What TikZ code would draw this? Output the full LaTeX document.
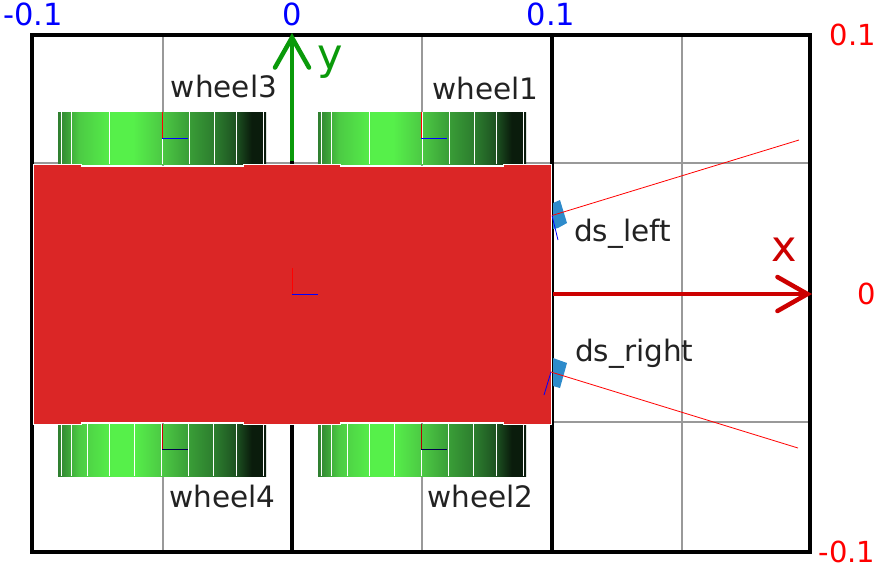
\documentclass[tikz,border=0pt]{standalone}
\usepackage{fontspec}
\setmainfont{DejaVu Sans}
\usetikzlibrary{arrows.meta}

\definecolor{wheelA}{HTML}{2F7F30}
\definecolor{wheelB}{HTML}{4CCB44}
\definecolor{wheelC}{HTML}{56F04A}
\definecolor{wheelD}{HTML}{4CC844}
\definecolor{wheelE}{HTML}{389A36}
\definecolor{wheelF}{HTML}{2B7A2D}
\definecolor{wheelG}{HTML}{1C4F20}
\definecolor{wheelH}{HTML}{0A1C0C}
\definecolor{bodyred}{HTML}{DB2626}
\definecolor{sensorblue}{HTML}{2E8BCB}
\definecolor{axisgreen}{HTML}{0A9A0A}
\definecolor{axisred}{HTML}{CC0000}
\definecolor{labelgrey}{HTML}{222222}

% 25bp..75bp is the visible part
\pgfdeclarehorizontalshading{wheelshade}{100bp}{
  color(0bp)=(wheelA); color(25bp)=(wheelA); color(30bp)=(wheelB);
  color(38bp)=(wheelC); color(43bp)=(wheelC); color(50bp)=(wheelD);
  color(57bp)=(wheelE); color(63bp)=(wheelF); color(68bp)=(wheelG);
  color(71.5bp)=(wheelH); color(100bp)=(wheelH)}

\newcommand{\wheelbands}[2]{
  \foreach \o in {#2} {
    \draw[bandline] (#1+\o,\ya) -- (#1+\o,\yb);
  }
}

\begin{document}
\begin{tikzpicture}[x=1pt, y=-1pt]
    \tikzstyle{every node}=[inner sep=0pt, font=\fontsize{29.5}{30}\selectfont, text=labelgrey]
    \tikzstyle{gridline}=[draw=black!40, line width=2.5pt]
    \tikzstyle{frameline}=[draw=black, line width=4pt]
    \tikzstyle{wheelbody}=[shading=wheelshade, minimum width=208pt, minimum height=52pt, anchor=north west]
    \tikzstyle{bandline}=[draw=white, line width=1pt]
    \tikzstyle{sensor}=[fill=sensorblue]
    \tikzstyle{ray}=[draw=red, line width=.8pt]
    \tikzstyle{tickx}=[text=blue, font=\fontsize{30.5}{32}\selectfont]
    \tikzstyle{ticky}=[text=red, font=\fontsize{29}{30}\selectfont]
    \tikzstyle{axisarrow}=[line width=4.5pt, -{Straight Barb[length=30pt, width=34pt, line cap=round]}]

    \useasboundingbox (0,0) rectangle (880,566);

    % grid
    \foreach \x in {163,422,682} {
      \draw[gridline] (\x,35) -- (\x,552);
    }
    \foreach \y in {163,422} {
      \draw[gridline] (32,\y) -- (810,\y);
    }
    \foreach \x in {292,552} {
      \draw[frameline] (\x,35) -- (\x,552);
    }
    \draw[frameline] (32,35) rectangle (810,552);

    % wheels
    \node[wheelbody] (wheel3body) at (58,112) {};
    \node[wheelbody] (wheel1body) at (318,112) {};
    \node[wheelbody] (wheel4body) at (58,424) {};
    \node[wheelbody] (wheel2body) at (318,424) {};

    \def\ya{112} \def\yb{164}
    \wheelbands{58}{3,13,51,104,131,156,178,205}
    \wheelbands{318}{3,13,51,104,131,156,178,205}
    \def\ya{424} \def\yb{476}
    \wheelbands{58}{3,13,29,51,76,103,130,155,178,205}
    \wheelbands{318}{3,13,29,51,76,103,130,155,178,205}

    % body
    \draw[fill=bodyred, draw=white, line width=1pt]
      (33,164) -- (81,164) -- (81,166) -- (243,166) -- (243,164) -- (340,164)
      -- (340,166) -- (503,166) -- (503,164) -- (551,164)
      -- (551,424) -- (503,424) -- (503,422) -- (340,422) -- (340,424)
      -- (243,424) -- (243,422) -- (81,422) -- (81,424) -- (33,424) -- cycle;

    % wheel and body frames
    \foreach \x/\y/\top/\c in {162/138/112/red,421/138/112/red,162/449/424/red!80!black,421/449/424/red!70!black,292/294/268/red} {
      \draw[\c, line width=1pt] (\x,\top) -- (\x,\y);
    }
    \foreach \x/\y/\c in {162/138/blue,421/138/blue,162/449/blue!30!black,421/449/blue!30!black,292/294/blue} {
      \draw[\c, line width=1pt] (\x,\y) -- (\x+26,\y);
    }

    % sensors
    \fill[sensor] (553,203) -- (560,200) -- (567,223) -- (558,228) -- (553,229) -- cycle;
    \fill[sensor] (553,358) -- (567,363) -- (560,388) -- (553,386) -- cycle;

    \coordinate (dsleft) at (552,215.5);
    \coordinate (dsright) at (551,372);
    \coordinate (dslefttip) at (799,140);
    \coordinate (dsrighttip) at (798,448);
    \coordinate (dsleftz) at (558,240);
    \coordinate (dsrightz) at (544,395);
    \draw[ray] (dsleft) -- (dslefttip);
    \draw[ray] (dsright) -- (dsrighttip);
    \draw[blue, line width=.8pt] (dsleft) -- (dsleftz);
    \draw[blue, line width=.8pt] (dsright) -- (dsrightz);

    % axes
    \coordinate (ystart) at (292,161);
    \coordinate (ytip) at (292,33);
    \coordinate (xstart) at (553,294);
    \coordinate (xtip) at (812,294);
    \draw[axisarrow, axisgreen] (ystart) -- (ytip);
    \draw[axisarrow, axisred] (xstart) -- (xtip);
    \node[text=axisgreen, font=\fontsize{43}{44}\selectfont] (ylabel) at (330,62) {y};
    \node[text=axisred, font=\fontsize{43}{44}\selectfont] (xlabel) at (784,250) {x};

    % labels
    \node (wheel3) at (224,86) {wheel3};
    \node (wheel1) at (485.5,88.5) {wheel1};
    \node (wheel4) at (222.5,496) {wheel4};
    \node (wheel2) at (480.5,496) {wheel2};
    \node[anchor=west] (dsleftlabel) at (574,234) {ds\_left};
    \node[anchor=west] (dsrightlabel) at (575,353.5) {ds\_right};

    % ticks
    \node[tickx] (xminus) at (33,14) {-0.1};
    \node[tickx] (xzero) at (292,14) {0};
    \node[tickx] (xplus) at (551,14) {0.1};
    \node[ticky] (yplus) at (853,35) {0.1};
    \node[ticky] (yzero) at (867,294) {0};
    \node[ticky] (yminus) at (847,552) {-0.1};
\end{tikzpicture}
\end{document}
